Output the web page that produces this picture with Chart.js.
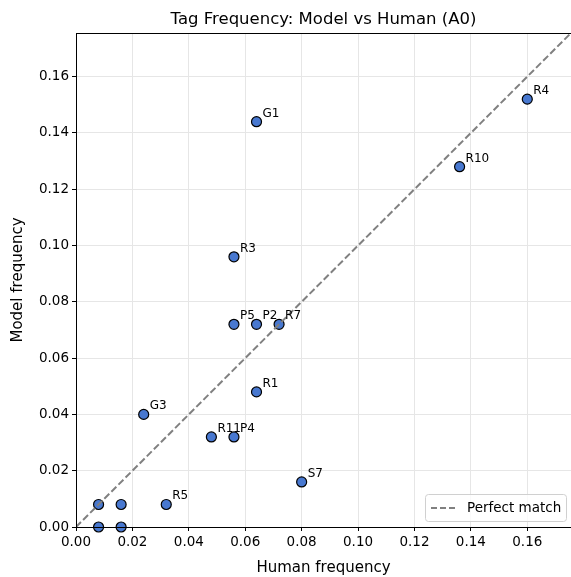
<!DOCTYPE html>
<html>
<head>
<meta charset="utf-8">
<script src="https://cdn.jsdelivr.net/npm/chart.js@4"></script>
<style>
  html, body { margin: 0; padding: 0; background: #fff; }
  #wrap { width: 571px; height: 577px; }
</style>
</head>
<body>
<div id="wrap"><canvas id="chart" width="571" height="577"></canvas></div>
<script>
const chartTitle = 'Tag Frequency: Model vs Human (A0)';
const tagNames = ['G1', 'R4', 'R10', 'R3', 'P5', 'P2', 'R7', 'R1', 'G3', 'R11', 'P4', 'S7', 'R5', '', '', '', ''];
const humanFreq = [0.064, 0.16, 0.136, 0.056, 0.056, 0.064, 0.072, 0.064, 0.024, 0.048, 0.056, 0.08, 0.032, 0.008, 0.016, 0.008, 0.016];
const modelFreq = [0.144, 0.152, 0.128, 0.096, 0.072, 0.072, 0.072, 0.048, 0.04, 0.032, 0.032, 0.016, 0.008, 0.008, 0.008, 0, 0];
const axisMax = 0.1755;
const xTicks = [0, 0.02, 0.04, 0.06, 0.08, 0.1, 0.12, 0.14, 0.16];

const font = "'DejaVu Sans', sans-serif";

const points = humanFreq.map((x, i) => ({ x: x, y: modelFreq[i] }));

// labels next to each point
const labelPlugin = {
  id: 'pointLabels',
  afterDatasetsDraw(chart) {
    const ctx = chart.ctx;
    const meta = chart.getDatasetMeta(1);
    ctx.save();
    ctx.font = '12px ' + font;
    ctx.fillStyle = '#000';
    ctx.textBaseline = 'alphabetic';
    meta.data.forEach((pt, i) => {
      if (!tagNames[i]) return;
      ctx.fillText(tagNames[i], pt.x + 6, pt.y - 5);
    });
    ctx.restore();
  },
};

// frame, title over the plot area, legend box
const framePlugin = {
  id: 'frame',
  afterDraw(chart) {
    const a = chart.chartArea;
    const ctx = chart.ctx;
    ctx.save();
    ctx.strokeStyle = '#000';
    ctx.lineWidth = 1;
    ctx.strokeRect(a.left + 0.5, a.top + 0.5, a.right - a.left, a.bottom - a.top);
    // title
    ctx.fillStyle = '#000';
    ctx.font = '16.5px ' + font;
    ctx.textAlign = 'center';
    ctx.textBaseline = 'alphabetic';
    ctx.fillText(chartTitle, (a.left + a.right) / 2, 24);
    ctx.textAlign = 'left';
    // legend
    const w = 141, h = 27;
    const lx = a.right - w - 5, ly = a.bottom - h - 6;
    ctx.fillStyle = 'rgba(255,255,255,0.8)';
    ctx.strokeStyle = '#d0d0d0';
    ctx.beginPath();
    ctx.roundRect(lx + 0.5, ly + 0.5, w, h, 3);
    ctx.fill();
    ctx.stroke();
    ctx.strokeStyle = '#808080';
    ctx.lineWidth = 2;
    ctx.setLineDash([6, 3]);
    ctx.beginPath();
    ctx.moveTo(lx + 6, ly + h / 2 + 0.5);
    ctx.lineTo(lx + 32, ly + h / 2 + 0.5);
    ctx.stroke();
    ctx.setLineDash([]);
    ctx.fillStyle = '#000';
    ctx.font = '13.5px ' + font;
    ctx.textBaseline = 'middle';
    ctx.fillText(chart.data.datasets[0].label, lx + 42, ly + h / 2 + 1);
    ctx.restore();
  },
};

new Chart(document.getElementById('chart'), {
  type: 'scatter',
  data: {
    datasets: [
      {
        type: 'line',
        label: 'Perfect match',
        data: [{ x: 0, y: 0 }, { x: axisMax, y: axisMax }],
        borderColor: '#808080',
        borderWidth: 2,
        borderDash: [7, 3],
        pointRadius: 0,
        fill: false,
      },
      {
        label: 'Tags',
        data: points,
        backgroundColor: '#4878d0',
        borderColor: '#000',
        borderWidth: 1.2,
        pointRadius: 5,
        pointHoverRadius: 5,
        clip: false,
      },
    ],
  },
  options: {
    responsive: false,
    animation: false,
    layout: { autoPadding: false, padding: { left: 0, right: 0, top: 33, bottom: 0 } },
    plugins: {
      legend: { display: false },
      tooltip: { enabled: false },
      title: { display: false },
    },
    scales: {
      x: {
        type: 'linear',
        min: 0,
        max: axisMax,
        afterBuildTicks(scale) {
          scale.ticks = xTicks.map((v) => ({ value: v }));
        },
        afterFit(scale) {
          scale.height = 50;
        },
        grid: { color: '#e6e6e6', tickColor: '#000', tickLength: 4 },
        border: { color: '#000' },
        ticks: {
          color: '#000',
          padding: 3,
          font: { family: font, size: 13.5 },
          callback: (v) => v.toFixed(2),
        },
        title: {
          display: true,
          text: 'Human frequency',
          color: '#000',
          font: { family: font, size: 15 },
          padding: { top: 2, bottom: 0 },
        },
      },
      y: {
        type: 'linear',
        min: 0,
        max: axisMax,
        afterBuildTicks(scale) {
          scale.ticks = xTicks.map((v) => ({ value: v }));
        },
        afterFit(scale) {
          scale.width = 76;
        },
        grid: { color: '#e6e6e6', tickColor: '#000', tickLength: 4 },
        border: { color: '#000' },
        ticks: {
          color: '#000',
          padding: 3,
          font: { family: font, size: 13.5 },
          callback: (v) => v.toFixed(2),
        },
        title: {
          display: true,
          text: 'Model frequency',
          color: '#000',
          font: { family: font, size: 15 },
          padding: { top: 9, bottom: 0 },
        },
      },
    },
  },
  plugins: [labelPlugin, framePlugin],
});
</script>
</body>
</html>
